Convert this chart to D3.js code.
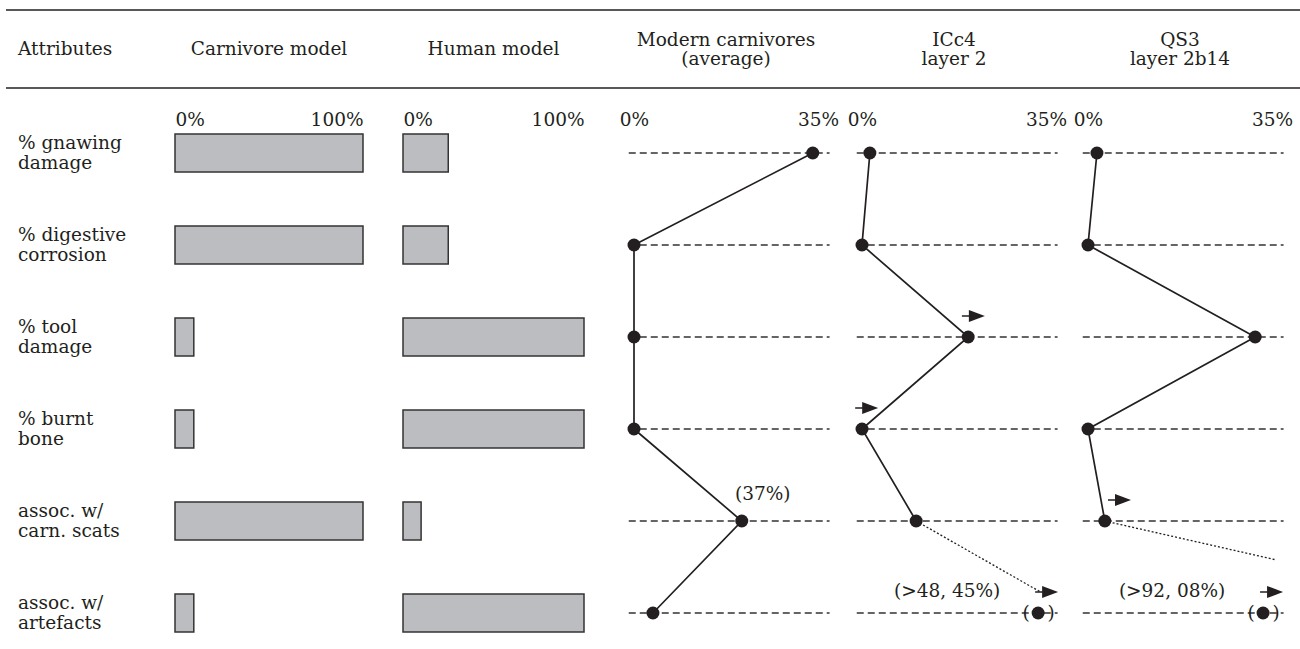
<!DOCTYPE html>
<html>
<head>
<meta charset="utf-8">
<script src="https://cdn.jsdelivr.net/npm/d3@7/dist/d3.min.js"></script>
<style>
  body { margin: 0; background: #fff; }
  text { font-family: 'DejaVu Serif', serif; font-size: 18.5px; fill: #231f20; }
</style>
</head>
<body>
<div id="chart"></div>
<script>
// rows of the table
var attributes = [
  ['% gnawing', 'damage'],
  ['% digestive', 'corrosion'],
  ['% tool', 'damage'],
  ['% burnt', 'bone'],
  ['assoc. w/', 'carn. scats'],
  ['assoc. w/', 'artefacts']
];
var columnTitles = [
  ['Attributes'],
  ['Carnivore model'],
  ['Human model'],
  ['Modern carnivores', '(average)'],
  ['ICc4', 'layer 2'],
  ['QS3', 'layer 2b14']
];

// model bars (% of max)
var carnivoreModel = [100, 100, 10, 10, 100, 10];
var humanModel = [25, 25, 100, 100, 10, 100];
var barTicks = ['0%', '100%'];

// profiles (0-35% scale), null = off the scale
var modernCarnivores = [34, 0, 0, 0, 20.5, 3.6];
var icc4 = [1.5, 0, 20.2, 0, 10.3, null];
var qs3 = [1.7, 0, 31.8, 0, 3.2, null];
var dotTicks = ['0%', '35%'];

// off-scale values, drawn in brackets near the right end
var icc4OffScale = { row: 5, value: 33.5, label: '(>48, 45%)' };
var qs3OffScale = { row: 5, value: 33.3, label: '(>92, 08%)' };
// dotted lead lines toward the off-scale values (value, row position)
var icc4Lead = { from: 4, toValue: 33.9, toRow: 4.77 };
var qs3Lead = { from: 4, toValue: 35.6, toRow: 4.42 };
// "higher than" arrows: row and value where the arrow starts
var icc4Arrows = [{ row: 2, at: 19.0 }, { row: 3, at: -1.3 }];
var qs3Arrows = [{ row: 4, at: 3.8 }];
var modernNote = { row: 4, label: '(37%)' };

var W = 1300, H = 649;
var svg = d3.select('#chart').append('svg')
  .attr('width', W)
  .attr('height', H);

svg.append('rect').attr('width', W).attr('height', H).attr('fill', '#fff');

var rowY = d3.scaleLinear().domain([0, 5]).range([153, 613]);
var xCarn = d3.scaleLinear().domain([0, 100]).range([175, 363]);
var xHuman = d3.scaleLinear().domain([0, 100]).range([403, 584]);
var xModern = d3.scaleLinear().domain([0, 35]).range([634, 818]);
var xIcc4 = d3.scaleLinear().domain([0, 35]).range([862, 1046]);
var xQs3 = d3.scaleLinear().domain([0, 35]).range([1088, 1272]);

// table rules
svg.append('line').attr('x1', 6).attr('x2', W).attr('y1', 10).attr('y2', 10)
  .attr('stroke', '#231f20').attr('stroke-width', 1.5);
svg.append('line').attr('x1', 6).attr('x2', W).attr('y1', 88).attr('y2', 88)
  .attr('stroke', '#231f20').attr('stroke-width', 1.5);

// column titles
var titleX = [18, (xCarn(0) + xCarn(100)) / 2, (xHuman(0) + xHuman(100)) / 2,
  (xModern(0) + xModern(35)) / 2, (xIcc4(0) + xIcc4(35)) / 2, (xQs3(0) + xQs3(35)) / 2];
columnTitles.forEach(function(t, i) {
  var y0 = t.length === 1 ? 55 : 46;
  var txt = svg.append('text')
    .attr('x', titleX[i])
    .attr('y', y0)
    .attr('text-anchor', i === 0 ? 'start' : 'middle');
  t.forEach(function(line, j) {
    txt.append('tspan').attr('x', titleX[i]).attr('dy', j === 0 ? 0 : 19).text(line);
  });
});

// row labels
attributes.forEach(function(a, i) {
  svg.append('text').attr('x', 18).attr('y', rowY(i) - 4).text(a[0]);
  svg.append('text').attr('x', 18).attr('y', rowY(i) + 16).text(a[1]);
});

// bar panels
function barPanel(x, values) {
  var g = svg.append('g');
  g.append('g')
    .attr('transform', 'translate(0,126)')
    .call(d3.axisTop(x).tickValues([0, 100]).tickSize(0).tickPadding(0)
      .tickFormat(function(d, i) { return barTicks[i]; }))
    .call(function(a) {
      a.select('.domain').remove();
      a.selectAll('text')
        .attr('dy', 0)
        .attr('font-family', null).attr('font-size', null)
        .attr('text-anchor', function(d, i) { return i === 0 ? 'start' : 'end'; });
    });
  g.selectAll('.bar')
    .data(values)
    .enter().append('rect')
    .attr('class', 'bar')
    .attr('x', x(0))
    .attr('y', function(d, i) { return rowY(i) - 19; })
    .attr('width', function(d) { return x(d) - x(0); })
    .attr('height', 38)
    .attr('fill', '#bcbdc0')
    .attr('stroke', '#333')
    .attr('stroke-width', 1.5);
}
barPanel(xCarn, carnivoreModel);
barPanel(xHuman, humanModel);

function arrow(g, x0, y) {
  g.append('line').attr('x1', x0).attr('x2', x0 + 10).attr('y1', y).attr('y2', y)
    .attr('stroke', '#231f20').attr('stroke-width', 1.5);
  g.append('path')
    .attr('d', 'M' + (x0 + 7) + ',' + (y - 6) + 'L' + (x0 + 23) + ',' + y + 'L' + (x0 + 7) + ',' + (y + 6) + 'Z')
    .attr('fill', '#231f20');
}

// dot panels
function dotPanel(x, values, opts) {
  var g = svg.append('g');
  g.append('g')
    .attr('transform', 'translate(0,126)')
    .call(d3.axisTop(x).tickValues([0, 35]).tickSize(0).tickPadding(0)
      .tickFormat(function(d, i) { return dotTicks[i]; }))
    .call(function(a) {
      a.select('.domain').remove();
      a.selectAll('text').attr('dy', 0)
        .attr('font-family', null).attr('font-size', null);
    });

  g.selectAll('.guide')
    .data(attributes)
    .enter().append('line')
    .attr('class', 'guide')
    .attr('x1', x(-1)).attr('x2', x(37.2))
    .attr('y1', function(d, i) { return rowY(i); })
    .attr('y2', function(d, i) { return rowY(i); })
    .attr('stroke', '#333')
    .attr('stroke-width', 1.3)
    .attr('stroke-dasharray', '7,4');

  var pts = values.map(function(v, i) { return { v: v, i: i }; })
    .filter(function(d) { return d.v !== null; });

  g.append('path')
    .datum(pts)
    .attr('fill', 'none')
    .attr('stroke', '#231f20')
    .attr('stroke-width', 1.7)
    .attr('d', d3.line()
      .x(function(d) { return x(d.v); })
      .y(function(d) { return rowY(d.i); }));

  if (opts.lead) {
    var l = opts.lead;
    g.append('line')
      .attr('x1', x(values[l.from])).attr('y1', rowY(l.from))
      .attr('x2', x(l.toValue)).attr('y2', rowY(l.toRow))
      .attr('stroke', '#231f20').attr('stroke-width', 1.3)
      .attr('stroke-dasharray', '2,2');
  }

  g.selectAll('.dot')
    .data(pts)
    .enter().append('circle')
    .attr('class', 'dot')
    .attr('cx', function(d) { return x(d.v); })
    .attr('cy', function(d) { return rowY(d.i); })
    .attr('r', 6.5)
    .attr('fill', '#231f20');

  (opts.arrows || []).forEach(function(a) {
    arrow(g, x(a.at), rowY(a.row) - 21);
  });

  if (opts.off) {
    var o = opts.off, ox = x(o.value), oy = rowY(o.row);
    g.append('text').attr('x', ox - 12).attr('y', oy + 6).attr('text-anchor', 'middle').text('(');
    g.append('text').attr('x', ox + 13).attr('y', oy + 6).attr('text-anchor', 'middle').text(')');
    g.append('circle').attr('cx', ox).attr('cy', oy).attr('r', 6.5).attr('fill', '#231f20');
    arrow(g, ox - 3, oy - 21);
    g.append('text').attr('x', ox - 91).attr('y', oy - 16).attr('text-anchor', 'middle').text(o.label);
  }

  if (opts.note) {
    g.append('text')
      .attr('x', x(values[opts.note.row]) + 21)
      .attr('y', rowY(opts.note.row) - 21)
      .attr('text-anchor', 'middle')
      .text(opts.note.label);
  }
}

dotPanel(xModern, modernCarnivores, { note: modernNote });
dotPanel(xIcc4, icc4, { arrows: icc4Arrows, off: icc4OffScale, lead: icc4Lead });
dotPanel(xQs3, qs3, { arrows: qs3Arrows, off: qs3OffScale, lead: qs3Lead });
</script>
</body>
</html>
